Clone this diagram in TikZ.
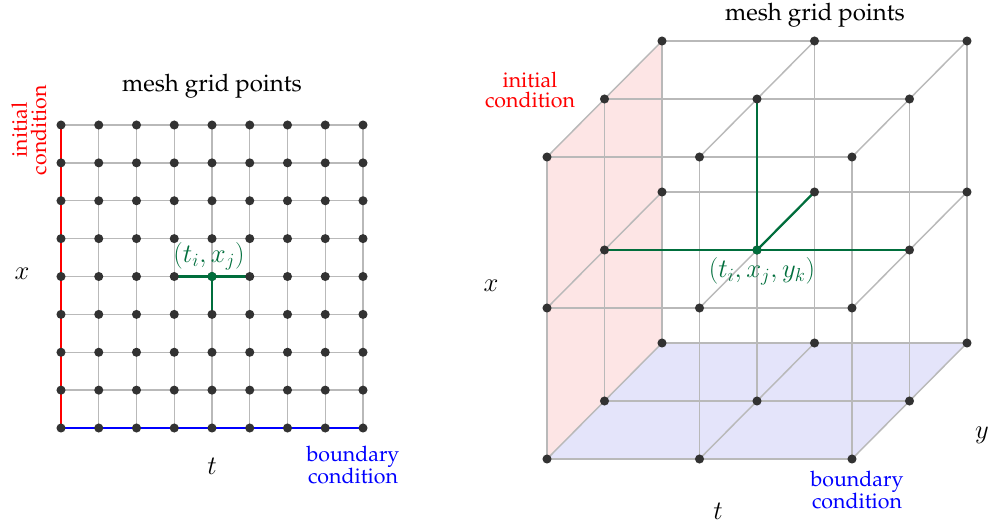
\RequirePackage{fix-cm}
\documentclass[tikz,border=0pt]{standalone}
\usepackage[T1]{fontenc}
\usepackage{palatino}
\definecolor{gridgray}{RGB}{185,185,185}
\definecolor{dotgray}{RGB}{50,50,50}
\definecolor{meshgreen}{RGB}{0,110,60}
\definecolor{initfill}{RGB}{253,229,229}
\definecolor{bndfill}{RGB}{228,228,250}
\begin{document}
\begin{tikzpicture}[x=0.75pt,y=-0.75pt,
  gridline/.style={draw=gridgray,line width=1.1pt},
  dot/.style={circle,fill=dotgray,inner sep=0pt,minimum size=6.8pt},
  gdot/.style={circle,fill=meshgreen,inner sep=0pt,minimum size=6.8pt},
  greenline/.style={draw=meshgreen,line width=1.7pt},
  ttl/.style={font=\fontsize{18}{18}\selectfont,inner sep=1pt},
  lbl/.style={font=\fontsize{16}{14.5}\selectfont,align=center,inner sep=1pt},
  mlbl/.style={font=\fontsize{20}{22}\selectfont,inner sep=1pt}]
\useasboundingbox (0,0) rectangle (989,525);
% ---------- left grid ----------
\foreach \i in {0,...,8} \foreach \j in {0,...,8}
  \coordinate (a-\i-\j) at ({61+37.75*\i},{428-37.875*\j});
\foreach \i in {0,...,8} {
  \draw[gridline] (a-\i-0) -- (a-\i-8);
  \draw[gridline] (a-0-\i) -- (a-8-\i);
}
\draw[red,line width=1.8pt] (a-0-0) -- (a-0-8);
\draw[blue,line width=1.8pt] (a-0-0) -- (a-8-0);
\draw[greenline] (a-3-4) -- (a-5-4);
\draw[greenline] (a-4-4) -- (a-4-3);
\foreach \i in {0,...,8} \foreach \j in {0,...,8}
  \node[dot] (da-\i-\j) at (a-\i-\j) {};
\node[gdot] (ga) at (a-4-4) {};
\node[ttl] (titleA) at (212,86) {mesh grid points};
\node[lbl,text=red,rotate=90] (initA) at (29,130) {initial\\condition};
\node[lbl,text=blue] (bndA) at (353,465) {boundary\\condition};
\node[mlbl] (xA) at (22,274) {$x$};
\node[mlbl] (tA) at (212,466) {$t$};
\node[mlbl,text=meshgreen] (ptA) at (209,256) {$(t_i,x_j)$};
% ---------- right 3D grid ----------
\foreach \i in {0,1,2} \foreach \j in {0,1,2} \foreach \k in {0,1,2}
  \coordinate (b-\i-\j-\k) at ({547+152.5*\i+57.5*\k},{459-151*\j-58*\k});
\fill[initfill] (b-0-0-0) -- (b-0-2-0) -- (b-0-2-2) -- (b-0-0-2) -- cycle;
\fill[bndfill] (b-0-0-0) -- (b-2-0-0) -- (b-2-0-2) -- (b-0-0-2) -- cycle;
\foreach \u in {0,1,2} \foreach \v in {0,1,2} {
  \draw[gridline] (b-0-\u-\v) -- (b-2-\u-\v);
  \draw[gridline] (b-\u-0-\v) -- (b-\u-2-\v);
  \draw[gridline] (b-\u-\v-0) -- (b-\u-\v-2);
}
\draw[greenline] (b-0-1-1) -- (b-2-1-1);
\draw[greenline] (b-1-1-1) -- (b-1-2-1);
\draw[greenline] (b-1-1-1) -- (b-1-1-2);
\foreach \i in {0,1,2} \foreach \j in {0,1,2} \foreach \k in {0,1,2}
  \node[dot] (db-\i-\j-\k) at (b-\i-\j-\k) {};
\node[gdot] (gb) at (b-1-1-1) {};
\node[ttl] (titleB) at (815,15) {mesh grid points};
\node[lbl,text=red] (initB) at (530,90) {initial\\condition};
\node[lbl,text=blue] (bndB) at (857,490) {boundary\\condition};
\node[mlbl] (xB) at (491,286) {$x$};
\node[mlbl] (tB) at (718,511) {$t$};
\node[mlbl] (yB) at (982,435) {$y$};
\node[mlbl,text=meshgreen] (ptB) at (762,271) {$(t_i,x_j,y_k)$};
\end{tikzpicture}
\end{document}
